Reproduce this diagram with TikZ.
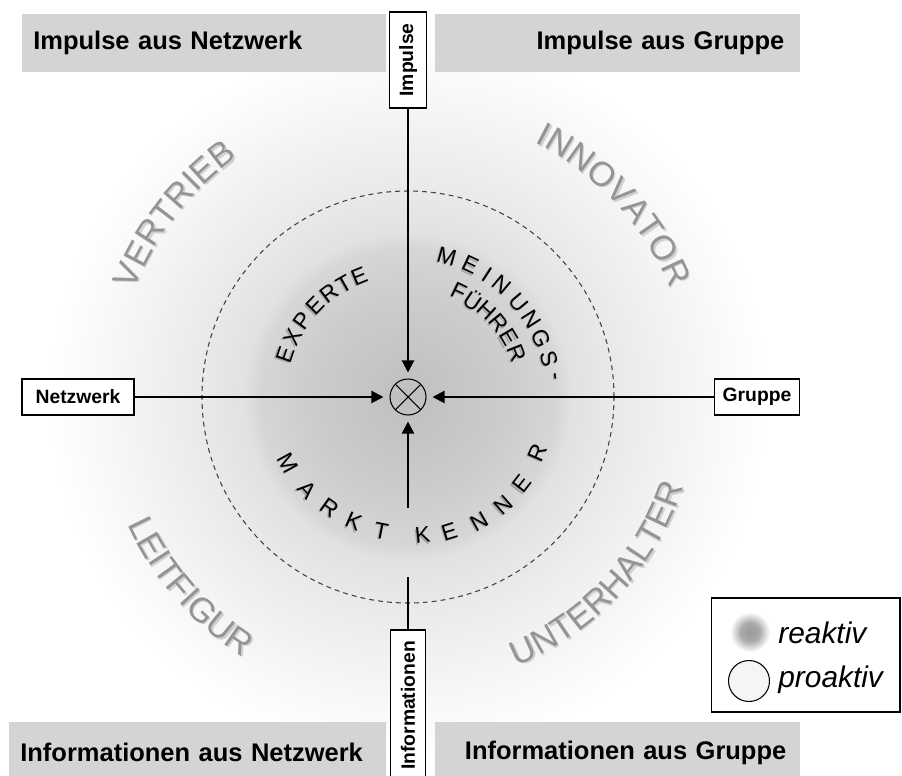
\documentclass[tikz,border=0pt]{standalone}
\usepackage{fontspec}
\setmainfont{Liberation Sans}
\usetikzlibrary{arrows.meta,decorations.text,calc}

\newcommand\hdrfont{\bfseries\fontsize{14.5}{16}\selectfont}
\newcommand\lblfont{\bfseries\fontsize{11}{12}\selectfont}
\newcommand\ringfnt{\fontsize{13}{14}\selectfont}
\newcommand\quadfont{\fontsize{19.5}{20}\selectfont}
\newcommand\lgdfont{\itshape\fontsize{17}{18}\selectfont}

% 25bp = edge of the shaded circle
\pgfdeclareradialshading{halo}{\pgfpointorigin}{color(0bp)=(black!22); color(10bp)=(black!13); color(15bp)=(black!8); color(21bp)=(black!3); color(25bp)=(white); color(50bp)=(white)}
\pgfdeclareradialshading{core}{\pgfpointorigin}{color(0bp)=(black!25); color(15bp)=(black!20); color(23bp)=(black!16); color(25bp)=(black!12); color(50bp)=(black!12)}
\pgfdeclareradialshading{blob}{\pgfpointorigin}{color(0bp)=(black!40); color(12bp)=(black!33); color(25bp)=(white); color(50bp)=(white)}

\tikzset{
  header/.style={fill=black!17, inner xsep=0.22cm, minimum height=1.16cm, font=\hdrfont, anchor=north west},
  source/.style={draw, line width=0.6pt, fill=white, font=\lblfont, inner sep=0pt},
  flow/.style={line width=1.2pt, -{Triangle[length=0.24cm, width=0.24cm]}, shorten >=0.12cm},
  ringletter/.style={font=\ringfnt, inner sep=0pt},
  quadword/.style={decorate, decoration={text along path, text align=center, text color=#1}},
}

\begin{document}
\begin{tikzpicture}[x=0.02cm, y=0.02cm]
\useasboundingbox (0,0) rectangle (902,775);
\fill[white] (0,0) rectangle (902,775);
\coordinate (c) at (408,378);

% background glow
\shade[shading=halo] (c) circle (360);
\shade[shading=core] (c) circle (162);
\draw[black!75, line width=0.6pt, dash pattern=on 2.8pt off 2.3pt] (c) circle (206);

% outer words
\path[quadword=black!18, decoration={text={|\quadfont|VERTRIEB}}] ($(c)+(182:294)+(1.5,-1.5)$) arc[start angle=182, end angle=102, radius=294];
\path[quadword=black!42, decoration={text={|\quadfont|VERTRIEB}}] ($(c)+(182:294)$) arc[start angle=182, end angle=102, radius=294];
\path[quadword=black!18, decoration={text={|\quadfont|INNOVATOR}}] ($(c)+(83:284)+(1.5,-1.5)$) arc[start angle=83, end angle=3, radius=284];
\path[quadword=black!42, decoration={text={|\quadfont|INNOVATOR}}] ($(c)+(83:284)$) arc[start angle=83, end angle=3, radius=284];
\path[quadword=black!18, decoration={text={|\quadfont|LEITFIGUR}}] ($(c)+(181:308)+(1.5,-1.5)$) arc[start angle=181, end angle=261, radius=308];
\path[quadword=black!42, decoration={text={|\quadfont|LEITFIGUR}}] ($(c)+(181:308)$) arc[start angle=181, end angle=261, radius=308];
\path[quadword=black!18, decoration={text={|\quadfont|UNTERHALTER}}] ($(c)+(277:290)+(1.5,-1.5)$) arc[start angle=277, end angle=357, radius=290];
\path[quadword=black!42, decoration={text={|\quadfont|UNTERHALTER}}] ($(c)+(277:290)$) arc[start angle=277, end angle=357, radius=290];

% inner words
\foreach \ch/\a [count=\i] in {E/161,X/152.5,P/144,E/135.5,R/127,T/119.5,E/112}
{
  \node[ringletter, text=black!35, rotate=\a-90] (exs\i) at ($(c)+(\a:130)+(-1.2,-1.2)$) {\ch};
  \node[ringletter, rotate=\a-90] (ex\i) at ($(c)+(\a:130)$) {\ch};
}
\foreach \ch/\a [count=\i] in {M/74.6,E/64.7,I/57.2,N/50.1,U/40.4,N/32.4,G/23.7,S/15.2,-/8}
{
  \node[ringletter, text=black!35, rotate=\a-90] (mes\i) at ($(c)+(\a:146)+(-1.2,-1.2)$) {\ch};
  \node[ringletter, rotate=\a-90] (me\i) at ($(c)+(\a:146)$) {\ch};
}
\foreach \ch/\a [count=\i] in {F/64.3,Ü/56.1,H/47.6,R/39,E/30.6,R/21.9}
{
  \node[ringletter, text=black!35, rotate=\a-90] (fus\i) at ($(c)+(\a:117)+(-1.2,-1.2)$) {\ch};
  \node[ringletter, rotate=\a-90] (fu\i) at ($(c)+(\a:117)$) {\ch};
}
\foreach \ch/\a/\r [count=\i] in {M/208.7/137,A/222.5/137,R/234.7/136,K/246.5/136,T/258.7/137,K/276/139,E/287.1/141,N/299.8/143,N/311.3/144,E/322.5/143,R/336.6/141}
{
  \node[ringletter, text=black!35, rotate=\a+90] (mks\i) at ($(c)+(\a:\r)+(-1.2,-1.2)$) {\ch};
  \node[ringletter, rotate=\a+90] (mk\i) at ($(c)+(\a:\r)$) {\ch};
}

% sum point
\node[circle, draw, line width=0.6pt, minimum size=0.72cm, inner sep=0pt,
  path picture={\draw[line width=0.6pt] (path picture bounding box.north west) -- (path picture bounding box.south east)
    (path picture bounding box.north east) -- (path picture bounding box.south west);}] (sum) at (c) {};

% sources
\node[source, minimum width=0.74cm, minimum height=1.92cm] (imp) at (408,715) {\rotatebox{90}{Impulse}};
\node[source, minimum width=0.7cm, minimum height=3.02cm] (inf) at (408,69.5) {\rotatebox{90}{Informationen}};
\node[source, minimum width=2.24cm, minimum height=0.72cm] (net) at (78,378) {Netzwerk};
\node[source, minimum width=1.7cm, minimum height=0.72cm] (grp) at (757,378) {Gruppe};

% connectors
\coordinate (mkt) at (408,267);
\coordinate (ie) at (408,198);
\draw[flow] (imp) -- (sum);
\draw[flow] (net) -- (sum);
\draw[flow] (grp) -- (sum);
\draw[flow] (mkt) -- (sum);
\draw[line width=1.2pt] (inf) -- (ie);

% headers
\node[header, text width=6.84cm, align=left] (hnet) at (22,761) {Impulse aus Netzwerk};
\node[header, inner xsep=0.32cm, text width=6.66cm, align=right] (hgrp) at (435,761) {Impulse aus Gruppe};
\node[header, anchor=south west, minimum height=1.24cm, text width=7.1cm, align=left] (inet) at (9,-9) {Informationen aus Netzwerk};
\node[header, anchor=south west, minimum height=1.24cm, inner xsep=0.28cm, text width=6.74cm, align=right] (igrp) at (435,-9) {Informationen aus Gruppe};

% legend
\node[draw, line width=0.6pt, fill=white, minimum width=3.78cm, minimum height=2.28cm] (leg) at (805.5,120) {};
\node[circle, shading=blob, minimum size=0.8cm, inner sep=0pt] (rea) at (750,143) {};
\node[circle, draw, fill=black!4, minimum size=0.82cm, inner sep=0pt, line width=0.6pt] (pro) at (749,94) {};
\node[anchor=base west, font=\lgdfont, inner sep=0pt] (reat) at (778,132) {reaktiv};
\node[anchor=base west, font=\lgdfont, inner sep=0pt] (prot) at (778,88) {proaktiv};
\end{tikzpicture}
\end{document}
